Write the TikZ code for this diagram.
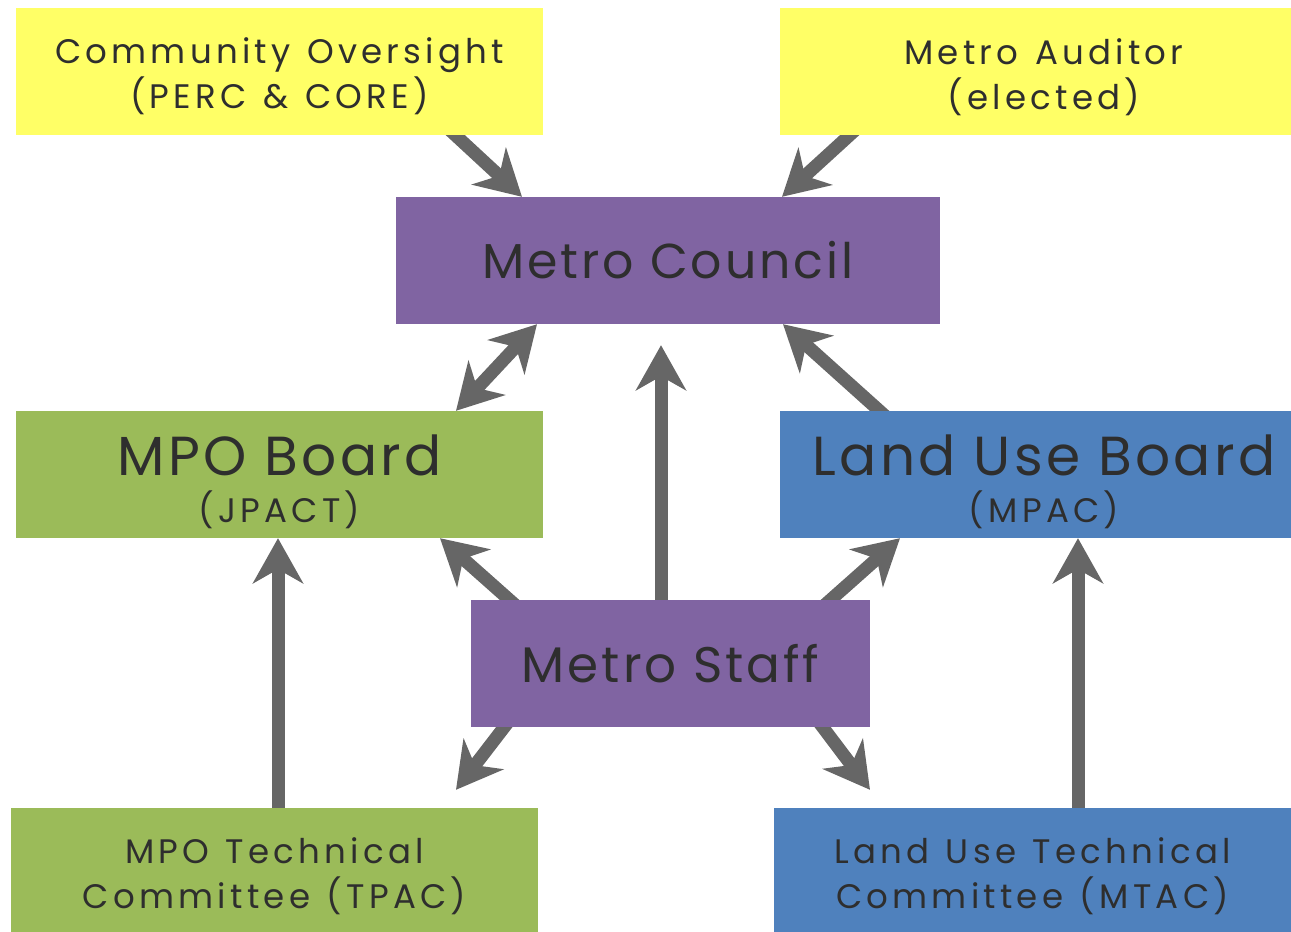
\documentclass[tikz,border=0pt]{standalone}
\usepackage{fontspec}
\setmainfont{Poppins}[LetterSpace=6]
\newfontfamily\spacedfont{Poppins}[LetterSpace=12.5,WordSpace=1.25]
\usepackage{tikz}
\usetikzlibrary{arrows.meta,calc,backgrounds}
\definecolor{boxyellow}{HTML}{FFFF66}
\definecolor{boxpurple}{HTML}{8064A2}
\definecolor{boxgreen}{HTML}{9BBB59}
\definecolor{boxblue}{HTML}{4F81BD}
\definecolor{arrowgray}{HTML}{666666}
\definecolor{textgray}{HTML}{2E2E2E}
\begin{document}
\begin{tikzpicture}[x=1pt,y=-1pt,
		box/.style={inner sep=0pt, align=center, text=textgray, anchor=center},
		small/.style={font=\spacedfont\fontsize{34}{45}\selectfont},
		link/.style={draw=arrowgray, line width=13pt, -{Stealth[length=45pt,width=50pt,inset=14pt]}}]
		\useasboundingbox (0,0) rectangle (1291,932);
		% Vigilanza e revisore
		\node [box, small, fill=boxyellow, minimum width=527pt, minimum height=127pt] (comm) at (279.5,71.5) {\rule{0pt}{36pt}Community Oversight\\(PERC \& CORE)};
		\node [box, small, fill=boxyellow, minimum width=511pt, minimum height=127pt] (aud) at (1035.5,71.5) {\rule{0pt}{37pt}\hspace*{17pt}Metro Auditor\\\hspace*{17pt}(elected)};
		% Consiglio
		\node [box, fill=boxpurple, minimum width=544pt, minimum height=127pt, font=\fontsize{49}{56}\selectfont] (council) at (668,260.5) {Metro Council};
		% Board
		\node [box, fill=boxgreen, minimum width=527pt, minimum height=127pt] (mpo) at (279.5,474.5) {\rule{0pt}{55pt}{\fontsize{55}{50}\selectfont MPO Board}\\[14pt]{\spacedfont\fontsize{34}{40}\selectfont (JPACT)}};
		\node [box, fill=boxblue, minimum width=511pt, minimum height=127pt] (lub) at (1035.5,474.5) {\rule{0pt}{55pt}\hspace*{17pt}{\fontsize{55}{50}\selectfont Land Use Board}\\[14pt]\hspace*{17pt}{\spacedfont\fontsize{34}{40}\selectfont (MPAC)}};
		% Staff
		\node [box, fill=boxpurple, minimum width=399pt, minimum height=127pt, font=\fontsize{50}{56}\selectfont] (staff) at (670.5,663.5) {Metro Staff};
		% Comitati tecnici
		\node [box, small, fill=boxgreen, minimum width=527pt, minimum height=124pt] (tpac) at (274.5,870) {\rule{0pt}{39pt}MPO Technical\\Committee (TPAC)};
		\node [box, small, fill=boxblue, minimum width=517pt, minimum height=124pt] (mtac) at (1032.5,870) {\rule{0pt}{39pt}Land Use Technical\\Committee (MTAC)};
		% FRECCE
		\begin{scope}[on background layer]
			\draw [link] ($(comm.south)+(170.5,-5)$) -- ($(council.north)+(-146,0)$);
			\draw [link] ($(aud.south)+(-180.5,-5)$) -- ($(council.north)+(114,0)$);
			\draw [link, {Stealth[length=45pt,width=50pt,inset=14pt]}-{Stealth[length=45pt,width=50pt,inset=14pt]}] ($(council.south)+(-131,0)$) -- ($(mpo.north)+(176.5,0)$);
			\draw [link] ($(staff.north)+(-9.5,5)$) -- ($(council.south)+(-7,21)$);
			\draw [link] ($(lub.north)+(-150.5,5)$) -- ($(council.south)+(115,0)$);
			\draw [link] ($(staff.north)+(-155.5,5)$) -- ($(mpo.south)+(160.5,0)$);
			\draw [link] ($(staff.north)+(154.5,5)$) -- ($(lub.south)+(-135.5,0)$);
			\draw [link] ($(tpac.north)+(3.5,5)$) -- ($(mpo.south)+(-1.5,0)$);
			\draw [link] ($(mtac.north)+(45.5,5)$) -- ($(lub.south)+(42.5,0)$);
			\draw [link] ($(staff.south)+(-162.5,-5)$) -- ($(tpac.north)+(181.5,-18)$);
			\draw [link] ($(staff.south)+(148.5,-5)$) -- ($(mtac.north)+(-162.5,-18)$);
		\end{scope}
	\end{tikzpicture}
\end{document}
